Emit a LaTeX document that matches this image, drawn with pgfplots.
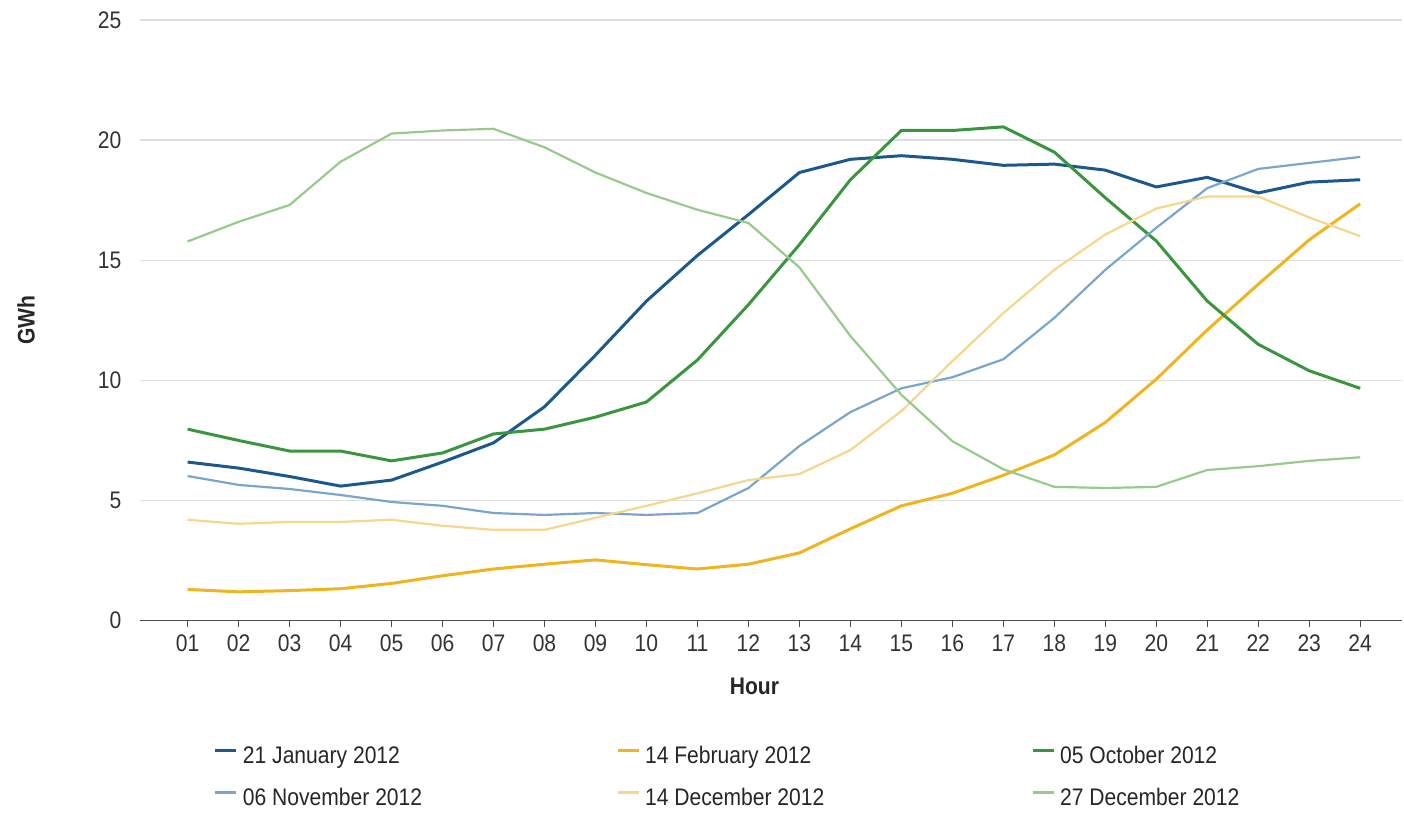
\documentclass[border=0pt]{standalone}
\usepackage{fontspec}
\setmainfont{Liberation Sans}[FakeStretch=0.88]
\usepackage{pgfplots}
\pgfplotsset{compat=1.18}
\definecolor{cJan}{RGB}{28,88,140}
\definecolor{cFeb}{RGB}{240,180,30}
\definecolor{cOct}{RGB}{58,150,62}
\definecolor{cNov}{RGB}{122,165,204}
\definecolor{cDec}{RGB}{246,214,140}
\definecolor{cDecb}{RGB}{152,202,142}
\begin{document}
\fontsize{12}{14}\selectfont
\begin{tikzpicture}
\begin{axis}[
  scale only axis, width=632.5pt, height=301pt,
  xmin=0.06, xmax=24.82, ymin=0, ymax=25,
  axis x line*=bottom, axis y line*=left,
  x axis line style={-, draw=black!70, line width=0.7pt},
  y axis line style={draw=none},
  xtick={1,...,24},
  xticklabels={01,02,03,04,05,06,07,08,09,10,11,12,13,14,15,16,17,18,19,20,21,22,23,24},
  ytick={0,5,10,15,20,25},
  ymajorgrids, grid style={black!13, line width=0.6pt},
  tick align=outside, major tick length=3pt,
  xtick style={draw=black!70, line width=0.6pt},
  ytick style={draw=none},
  /pgf/number format/assume math mode=true,
  ticklabel style={font=\fontsize{12}{14}\selectfont, text=black!80},
  yticklabel style={xshift=-2pt},
  xlabel={\textbf{Hour}}, ylabel={\textbf{GWh}},
  label style={font=\fontsize{12}{14}\selectfont, text=black!85},
  xlabel style={at={(axis description cs:0.487,0)}, anchor=center, yshift=-33pt},
  ylabel style={at={(axis description cs:0,0.5)}, anchor=center, yshift=57pt},
  legend columns=3,
  legend cell align=left,
  legend image code/.code={\draw[#1, line width=1.5pt] (0pt,3.5pt) -- (10.5pt,3.5pt);},
  legend style={draw=none, fill=none, at={(axis description cs:0.0538,0)}, anchor=north west,
    yshift=-60.5pt, font=\fontsize{12}{14}\selectfont,
    nodes={inner sep=0pt, text height=9pt, text depth=3pt, text=black!85},
    row sep=9pt,
    /tikz/every odd column/.append style={column sep=2.5pt},
    /tikz/every even column/.append style={column sep=0pt}},
]
\addplot[cJan, line width=1.5pt] coordinates {(1,6.6)(2,6.35)(3,6.0)(4,5.6)(5,5.85)(6,6.6)(7,7.4)(8,8.9)(9,11.05)(10,13.3)(11,15.2)(12,16.9)(13,18.65)(14,19.2)(15,19.35)(16,19.2)(17,18.95)(18,19.0)(19,18.75)(20,18.05)(21,18.45)(22,17.8)(23,18.25)(24,18.35)};
\addlegendentry{\makebox[187pt][l]{21 January 2012}}
\addplot[cFeb, line width=1.5pt] coordinates {(1,1.3)(2,1.2)(3,1.25)(4,1.33)(5,1.55)(6,1.87)(7,2.15)(8,2.35)(9,2.53)(10,2.33)(11,2.15)(12,2.35)(13,2.82)(14,3.82)(15,4.78)(16,5.3)(17,6.05)(18,6.9)(19,8.25)(20,10.05)(21,12.1)(22,14.0)(23,15.85)(24,17.35)};
\addlegendentry{\makebox[193.5pt][l]{14 February 2012}}
\addplot[cOct, line width=1.5pt] coordinates {(1,7.97)(2,7.5)(3,7.06)(4,7.06)(5,6.65)(6,6.98)(7,7.77)(8,7.97)(9,8.47)(10,9.1)(11,10.85)(12,13.15)(13,15.65)(14,18.35)(15,20.4)(16,20.4)(17,20.55)(18,19.5)(19,17.6)(20,15.8)(21,13.3)(22,11.5)(23,10.4)(24,9.67)};
\addlegendentry{05 October 2012}
\addplot[cNov, line width=1.1pt] coordinates {(1,6.02)(2,5.65)(3,5.48)(4,5.23)(5,4.94)(6,4.78)(7,4.48)(8,4.4)(9,4.48)(10,4.4)(11,4.48)(12,5.52)(13,7.27)(14,8.68)(15,9.67)(16,10.13)(17,10.88)(18,12.6)(19,14.6)(20,16.35)(21,18.0)(22,18.8)(23,19.05)(24,19.3)};
\addlegendentry{\makebox[187pt][l]{06 November 2012}}
\addplot[cDec, line width=1.1pt] coordinates {(1,4.2)(2,4.03)(3,4.11)(4,4.11)(5,4.2)(6,3.95)(7,3.78)(8,3.78)(9,4.28)(10,4.78)(11,5.3)(12,5.85)(13,6.1)(14,7.1)(15,8.72)(16,10.8)(17,12.8)(18,14.6)(19,16.07)(20,17.15)(21,17.65)(22,17.65)(23,16.78)(24,16.0)};
\addlegendentry{\makebox[193.5pt][l]{14 December 2012}}
\addplot[cDecb, line width=1.1pt] coordinates {(1,15.78)(2,16.6)(3,17.3)(4,19.1)(5,20.27)(6,20.4)(7,20.47)(8,19.7)(9,18.65)(10,17.8)(11,17.1)(12,16.55)(13,14.7)(14,11.85)(15,9.4)(16,7.47)(17,6.3)(18,5.57)(19,5.52)(20,5.57)(21,6.27)(22,6.43)(23,6.65)(24,6.8)};
\addlegendentry{27 December 2012}
\path (rel axis cs:0,0) ++(-70pt,-92pt) coordinate (bbsw);
\path (rel axis cs:1,1) ++(1pt,10pt) coordinate (bbne);
\end{axis}
\path[use as bounding box] (bbsw) rectangle (bbne);
\end{tikzpicture}
\end{document}
